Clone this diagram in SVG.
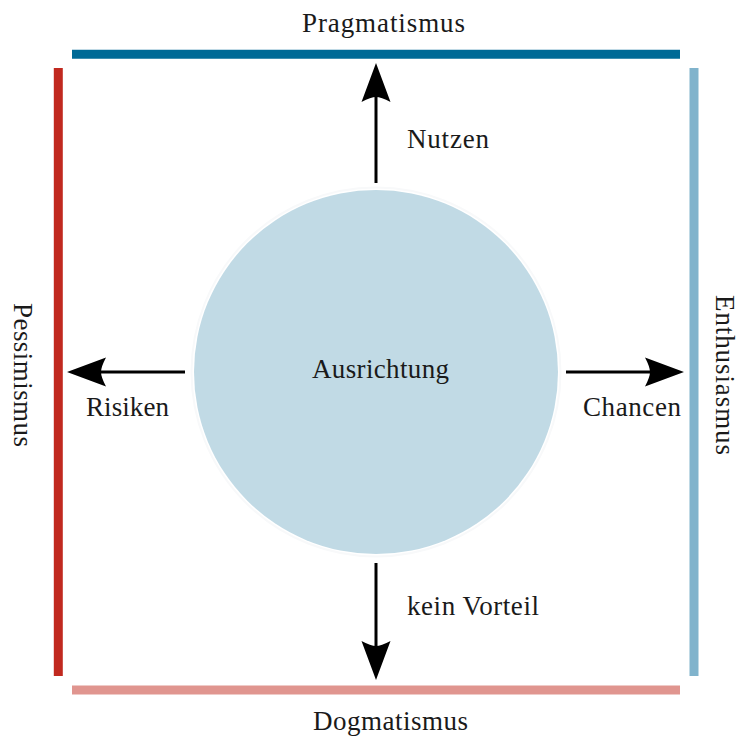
<svg xmlns="http://www.w3.org/2000/svg" width="742" height="736" viewBox="0 0 742 736">
  <style>
    .lbl { font-family: "Liberation Serif", "Times New Roman", serif; font-size: 27px; fill: #1a1a1a; }
    .bar { fill: none; stroke-width: 9; stroke-linecap: butt; }
    .arrow { stroke: #000; stroke-width: 3; fill: none; marker-end: url(#stealth); }
  </style>
  <defs>
    <marker id="stealth" markerUnits="userSpaceOnUse" viewBox="-6 -16 46 32" markerWidth="46" markerHeight="32" refX="0" refY="0" orient="auto" overflow="visible">
      <path d="M34,0 L-5,-14.5 Q0,-5 0,0 Q0,5 -5,14.5 Z" fill="#000"/>
    </marker>
  </defs>

  <rect width="742" height="736" fill="#fff"/>

  <!-- frame bars with their labels -->
  <g id="pragmatismus">
    <line class="bar" x1="72" y1="54.3" x2="680" y2="54.3" stroke="#006a96"/>
    <text class="lbl" x="302" y="31.5" textLength="163">Pragmatismus</text>
  </g>
  <g id="dogmatismus">
    <line class="bar" x1="72" y1="690" x2="680" y2="690" stroke="#e0958f"/>
    <text class="lbl" x="313" y="729.5" textLength="155">Dogmatismus</text>
  </g>
  <g id="pessimismus">
    <line class="bar" x1="58.3" y1="68" x2="58.3" y2="676" stroke="#c1291f"/>
    <text class="lbl" transform="translate(14,303) rotate(90)" textLength="144">Pessimismus</text>
  </g>
  <g id="enthusiasmus">
    <line class="bar" x1="694" y1="68" x2="694" y2="676" stroke="#80b3cc"/>
    <text class="lbl" transform="translate(716,295) rotate(90)" textLength="160">Enthusiasmus</text>
  </g>

  <!-- central node -->
  <g id="ausrichtung">
    <circle cx="376" cy="372" r="184.5" fill="none" stroke="#f8f9fa" stroke-width="2"/>
    <circle cx="376" cy="372" r="182" fill="#c1dae5"/>
    <text class="lbl" x="312" y="378" textLength="137">Ausrichtung</text>
  </g>

  <!-- connectors -->
  <g id="connectors">
    <line class="arrow" x1="376" y1="183" x2="376" y2="97"/>
    <line class="arrow" x1="185" y1="372" x2="101" y2="372"/>
    <line class="arrow" x1="566" y1="372" x2="650" y2="372"/>
    <line class="arrow" x1="376" y1="563" x2="376" y2="646"/>
    <text class="lbl" x="407" y="148" textLength="82">Nutzen</text>
    <text class="lbl" x="86" y="416" textLength="83">Risiken</text>
    <text class="lbl" x="583" y="416" textLength="98">Chancen</text>
    <text class="lbl" x="407" y="615" textLength="132">kein Vorteil</text>
  </g>
</svg>
